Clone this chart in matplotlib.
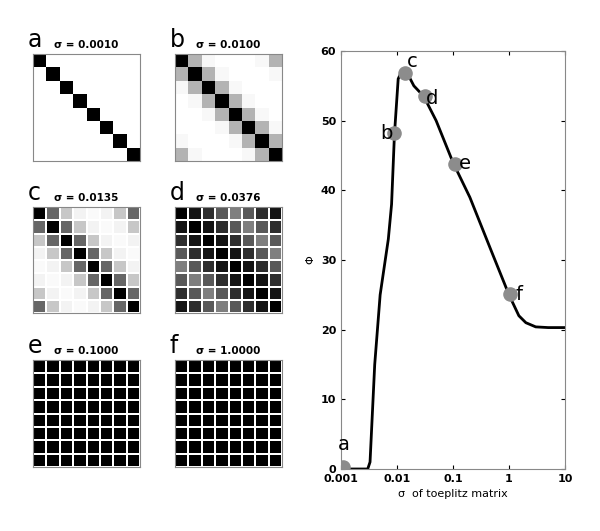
import numpy as np
import matplotlib.pyplot as plt

# first rows of the circulant matrices (darkness 0..1)
panel_labels = ["a", "b", "c", "d", "e", "f"]
panel_sigmas = ["0.0010", "0.0100", "0.0135", "0.0376", "0.1000", "1.0000"]
row_a = [1, 0, 0, 0, 0, 0, 0, 0]
row_b = [1, 0.3, 0.03, 0, 0, 0, 0.03, 0.3]
row_c = [1, 0.6, 0.22, 0.05, 0.02, 0.05, 0.22, 0.6]
row_d = [1, 0.92, 0.82, 0.65, 0.5, 0.65, 0.82, 0.92]
row_e = [1, 1, 1, 1, 1, 1, 1, 1]
row_f = [1, 1, 1, 1, 1, 1, 1, 1]
panel_rows = [row_a, row_b, row_c, row_d, row_e, row_f]
panel_grid = [False, False, True, True, True, True]

curve_sigma = [0.001, 0.003, 0.0033, 0.004, 0.005, 0.007, 0.008, 0.009, 0.0105,
               0.012, 0.016, 0.02, 0.03, 0.05, 0.1, 0.2, 0.5, 1, 1.5, 2, 3, 5, 10]
curve_phi = [0, 0, 1, 15, 25, 33, 38, 48, 56, 57, 56.5, 55, 53.5, 50, 44, 39,
             31, 25, 22, 21, 20.4, 20.3, 20.3]
pt_sigma = [0.0011, 0.009, 0.014, 0.031, 0.11, 1.05]
pt_phi = [0.3, 48.2, 56.8, 53.6, 43.8, 25.1]

W, H = 600, 531
fig = plt.figure(figsize=(6, 5.31), dpi=100)


def box(x0, y0, x1, y1):
    return [x0 / W, 1 - y1 / H, (x1 - x0) / W, (y1 - y0) / H]


# ── matrix panels ──
cols_x = [(33, 140), (175, 282)]
rows_y = [(54, 161), (207, 313), (360, 467)]
for i, (lab, sig, row, grid) in enumerate(zip(panel_labels, panel_sigmas, panel_rows, panel_grid)):
    (x0, x1), (y0, y1) = cols_x[i % 2], rows_y[i // 2]
    ax = fig.add_axes(box(x0, y0, x1, y1))
    n = len(row)
    mat = np.array([[row[(c - r) % n] for c in range(n)] for r in range(n)])
    ax.pcolormesh(mat, cmap="gray_r", vmin=0, vmax=1,
                  edgecolors="white" if grid else "face", linewidth=1.2 if grid else 0)
    ax.set_xlim(0, n)
    ax.set_ylim(n, 0)
    ax.set_xticks([])
    ax.set_yticks([])
    for s in ax.spines.values():
        s.set_color("#888888")
    ax.text(-0.05, 1.02, lab, transform=ax.transAxes, fontsize=17, ha="left", va="bottom")
    ax.text(0.5, 1.04, f"σ = {sig}", transform=ax.transAxes, fontsize=7.5,
            ha="center", va="bottom", fontweight="bold")

# ── phi curve ──
ax = fig.add_axes(box(341, 51, 565, 469))
ax.plot(curve_sigma, curve_phi, color="black", lw=2)
ax.scatter(pt_sigma, pt_phi, s=90, color="#8c8c8c", zorder=3)
offsets = [(0.0011, 3.5), (0.0064, 48.2), (0.019, 58.5), (0.043, 53.2), (0.16, 43.8), (1.5, 25.1)]
for lab, (ox, oy) in zip(panel_labels, offsets):
    ax.text(ox, oy, lab, fontsize=14, ha="center", va="center")
ax.set_xscale("log")
ax.set_xlim(0.001, 10)
ax.set_ylim(0, 60)
ax.set_xticks([0.001, 0.01, 0.1, 1, 10])
ax.set_xticklabels(["0.001", "0.01", "0.1", "1", "10"])
ax.minorticks_off()
ax.tick_params(labelsize=8, direction="in", top=True, right=True, length=3)
for t in ax.get_xticklabels() + ax.get_yticklabels():
    t.set_fontweight("bold")
for s in ax.spines.values():
    s.set_color("#888888")
ax.set_xlabel("σ  of toeplitz matrix", fontsize=8)
ax.set_ylabel("Φ", fontsize=8)

fig.savefig("out.png", dpi=100)
